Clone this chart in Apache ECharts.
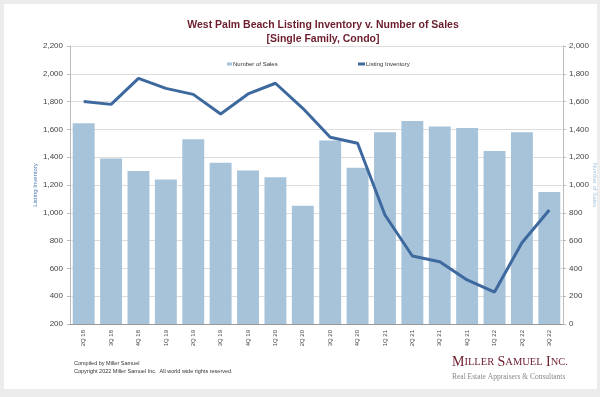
<!DOCTYPE html>
<html>
<head>
<meta charset="utf-8">
<script src="https://cdn.jsdelivr.net/npm/echarts@6/dist/echarts.min.js"></script>
<style>
    html, body { margin: 0; padding: 0; background: #ececec; }
    #chart { width: 600px; height: 397px; }
</style>
</head>
<body>
<div id="chart"></div>
<script>
const quarters = ['2Q 18', '3Q 18', '4Q 18', '1Q 19', '2Q 19', '3Q 19', '4Q 19', '1Q 20', '2Q 20',
    '3Q 20', '4Q 20', '1Q 21', '2Q 21', '3Q 21', '4Q 21', '1Q 22', '2Q 22', '3Q 22'];

const numberOfSales = [1445, 1190, 1100, 1040, 1330, 1160, 1105, 1055, 850,
    1320, 1125, 1380, 1460, 1420, 1410, 1245, 1380, 950];

const listingInventory = [1800, 1780, 1967, 1895, 1852, 1711, 1855, 1932, 1752,
    1543, 1500, 984, 689, 648, 517, 430, 785, 1020];

const barColor = '#a7c3da';
const lineColor = '#3d699e';
const titleColor = '#6b1d2c';

const axisLabelStyle = {
    fontFamily: 'Liberation Sans',
    fontSize: 8,
    color: '#444'
};

let chartDom = document.getElementById('chart');
let myChart = echarts.init(chartDom);
let option;

option = {
    backgroundColor: '#ececec',
    animation: false,
    title: {
        text: 'West Palm Beach Listing Inventory v. Number of Sales\n[Single Family, Condo]',
        left: 318,
        top: 13,
        textAlign: 'center',
        textStyle: {
            fontFamily: 'Liberation Sans',
            fontSize: 10.5,
            fontWeight: 'bold',
            color: titleColor,
            lineHeight: 14
        }
    },
    legend: [
        {
            data: ['Number of Sales'],
            left: 222,
            top: 56,
            icon: 'rect',
            itemWidth: 5,
            itemHeight: 3,
            textStyle: { fontFamily: 'Liberation Sans', fontSize: 6, color: '#333', padding: [0, 0, 0, -4] }
        },
        {
            data: ['Listing Inventory'],
            left: 353,
            top: 56,
            icon: 'rect',
            itemWidth: 7,
            itemHeight: 3,
            textStyle: { fontFamily: 'Liberation Sans', fontSize: 6, color: '#333', padding: [0, 0, 0, -4] }
        }
    ],
    grid: {
        left: 70,
        right: 37,
        top: 46,
        bottom: 73,
        outerBoundsMode: 'none'
    },
    xAxis: [
        {
            type: 'category',
            data: quarters,
            axisLine: { lineStyle: { color: '#999' } },
            axisTick: { show: false },
            axisLabel: {
                rotate: 90,
                fontFamily: 'Liberation Sans',
                fontSize: 6,
                color: '#444',
                margin: 6
            }
        }
    ],
    yAxis: [
        {
            type: 'value',
            min: 200,
            max: 2200,
            interval: 200,
            name: 'Listing Inventory',
            nameLocation: 'middle',
            nameRotate: 90,
            nameGap: 32,
            nameMoveOverlap: false,
            nameTextStyle: { fontFamily: 'Liberation Sans', fontSize: 6, color: '#4a78b0' },
            axisLine: { show: true, lineStyle: { color: '#bbb' } },
            axisTick: { show: true, length: 3, lineStyle: { color: '#bbb' } },
            axisLabel: {
                ...axisLabelStyle,
                margin: 7,
                formatter: v => v.toLocaleString('en-US')
            },
            splitLine: { lineStyle: { color: '#dcdcdc' } }
        },
        {
            type: 'value',
            min: 0,
            max: 2000,
            interval: 200,
            name: 'Number of Sales',
            nameLocation: 'middle',
            nameRotate: -90,
            nameGap: 29,
            nameMoveOverlap: false,
            nameTextStyle: { fontFamily: 'Liberation Sans', fontSize: 6, color: '#a9c5de' },
            axisLine: { show: true, lineStyle: { color: '#bbb' } },
            axisTick: { show: true, length: 3, lineStyle: { color: '#bbb' } },
            axisLabel: {
                ...axisLabelStyle,
                margin: 6,
                formatter: v => v.toLocaleString('en-US')
            },
            splitLine: { show: false }
        }
    ],
    series: [
        {
            name: 'Number of Sales',
            type: 'bar',
            yAxisIndex: 1,
            data: numberOfSales,
            barCategoryGap: '20%',
            itemStyle: { color: barColor }
        },
        {
            name: 'Listing Inventory',
            type: 'line',
            yAxisIndex: 0,
            data: listingInventory,
            symbol: 'none',
            lineStyle: { color: lineColor, width: 3 },
            itemStyle: { color: lineColor }
        }
    ],
    graphic: [
        {
            type: 'rect',
            z: -10,
            shape: { x: 4, y: 4, width: 593, height: 385 },
            style: { fill: '#fff' }
        },
        {
            type: 'text',
            left: 74,
            top: 360,
            style: {
                text: 'Compiled by Miller Samuel',
                font: '5.5px "Liberation Sans"',
                fill: '#333'
            }
        },
        {
            type: 'text',
            left: 74,
            top: 368,
            style: {
                text: 'Copyright 2022 Miller Samuel Inc.  All world wide rights reserved.',
                font: '5.5px "Liberation Sans"',
                fill: '#333'
            }
        },
        {
            type: 'text',
            left: 452,
            top: 355,
            style: {
                text: '{a|M}{b|ILLER} {a|S}{b|AMUEL} {a|I}{b|NC.}',
                rich: {
                    a: { fontFamily: 'Liberation Serif', fontSize: 14, fill: titleColor, color: titleColor },
                    b: { fontFamily: 'Liberation Serif', fontSize: 10.5, fill: titleColor, color: titleColor }
                }
            }
        },
        {
            type: 'text',
            left: 452,
            top: 373,
            style: {
                text: 'Real Estate Appraisers & Consultants',
                font: '7.5px "Liberation Serif"',
                fill: '#888'
            }
        }
    ]
};

option && myChart.setOption(option);
</script>
</body>
</html>
